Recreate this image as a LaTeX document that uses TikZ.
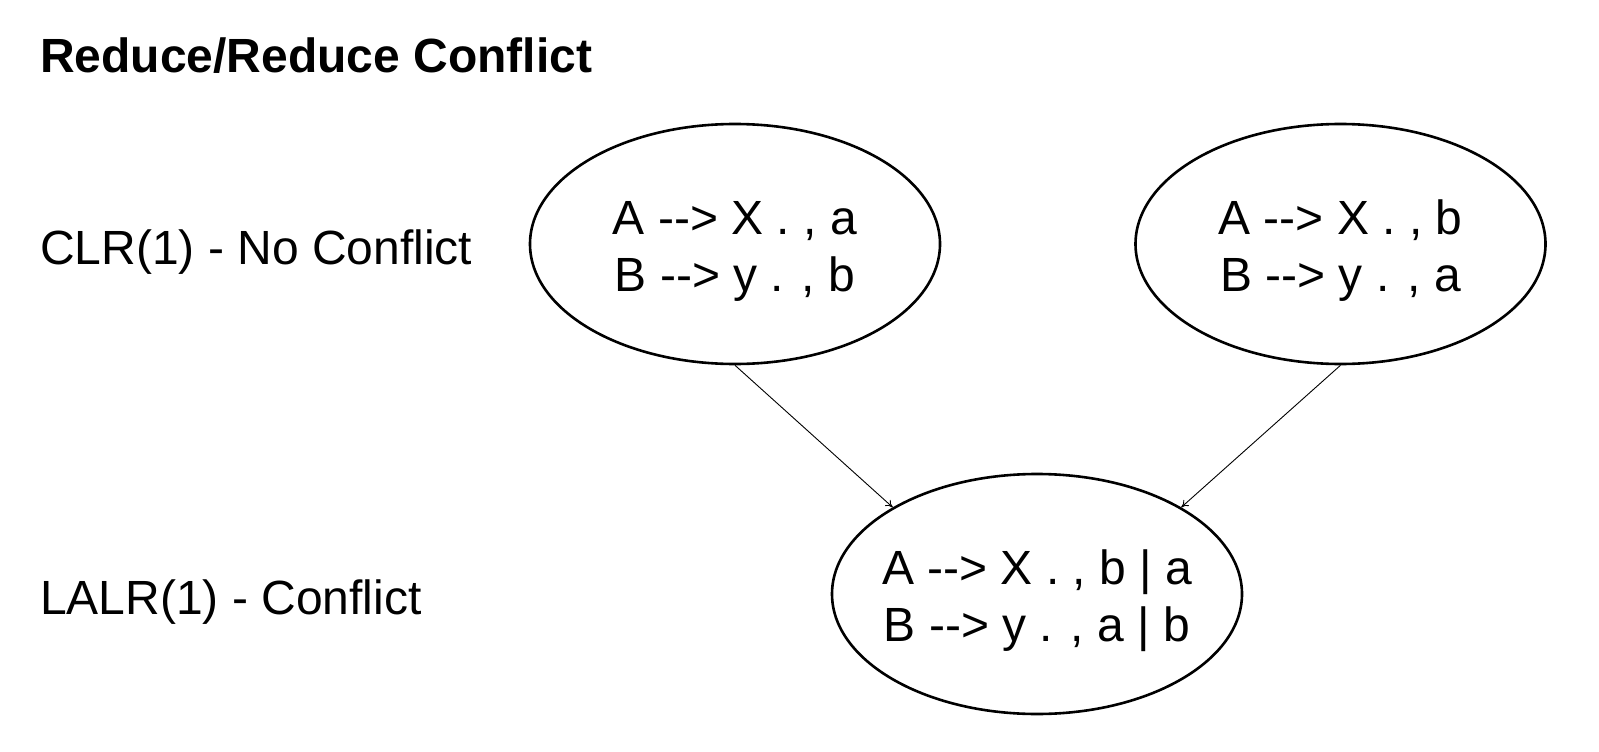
\documentclass[tikz,border=0pt]{standalone}
\usepackage{fontspec}
\setmainfont{Liberation Sans}[Ligatures=TeXOff]
\usetikzlibrary{shapes.geometric,arrows.meta}
\begin{document}
\begin{tikzpicture}[x=1pt,y=-1pt,
  lbl/.style={anchor=base west,inner sep=0pt,font=\fontsize{48}{55}\selectfont},
  state/.style={ellipse,draw,line width=2.6pt,minimum width=410pt,minimum height=240pt,inner xsep=-30pt,inner ysep=0pt,text height=105pt,align=center,font=\fontsize{48}{57}\selectfont},
  conn/.style={line width=0.9pt,-{To[length=7pt,width=8pt]}}]
\fill[white] (0,0) rectangle (1599,752);
\useasboundingbox (0,0) rectangle (1599,752);
\node[lbl,font=\fontsize{48}{55}\selectfont\bfseries] (title) at (40,73) {Reduce/Reduce Conflict};
\node[lbl] (clr) at (40,264) {CLR(1) - No Conflict};
\node[lbl] (lalr) at (40,614) {LALR(1) - Conflict};
\node[state] (s1) at (735,244) {A -{}-> X . , a\\B -{}-> y . , b};
\node[state] (s2) at (1340.5,244) {A -{}-> X . , b\\B -{}-> y . , a};
\node[state] (s3) at (1037,594) {A -{}-> X . , b | a\\B -{}-> y . , a | b};
\draw[conn] (s1.south) -- (s3.149);
\draw[conn] (s2.south) -- (s3.31);
\end{tikzpicture}
\end{document}
